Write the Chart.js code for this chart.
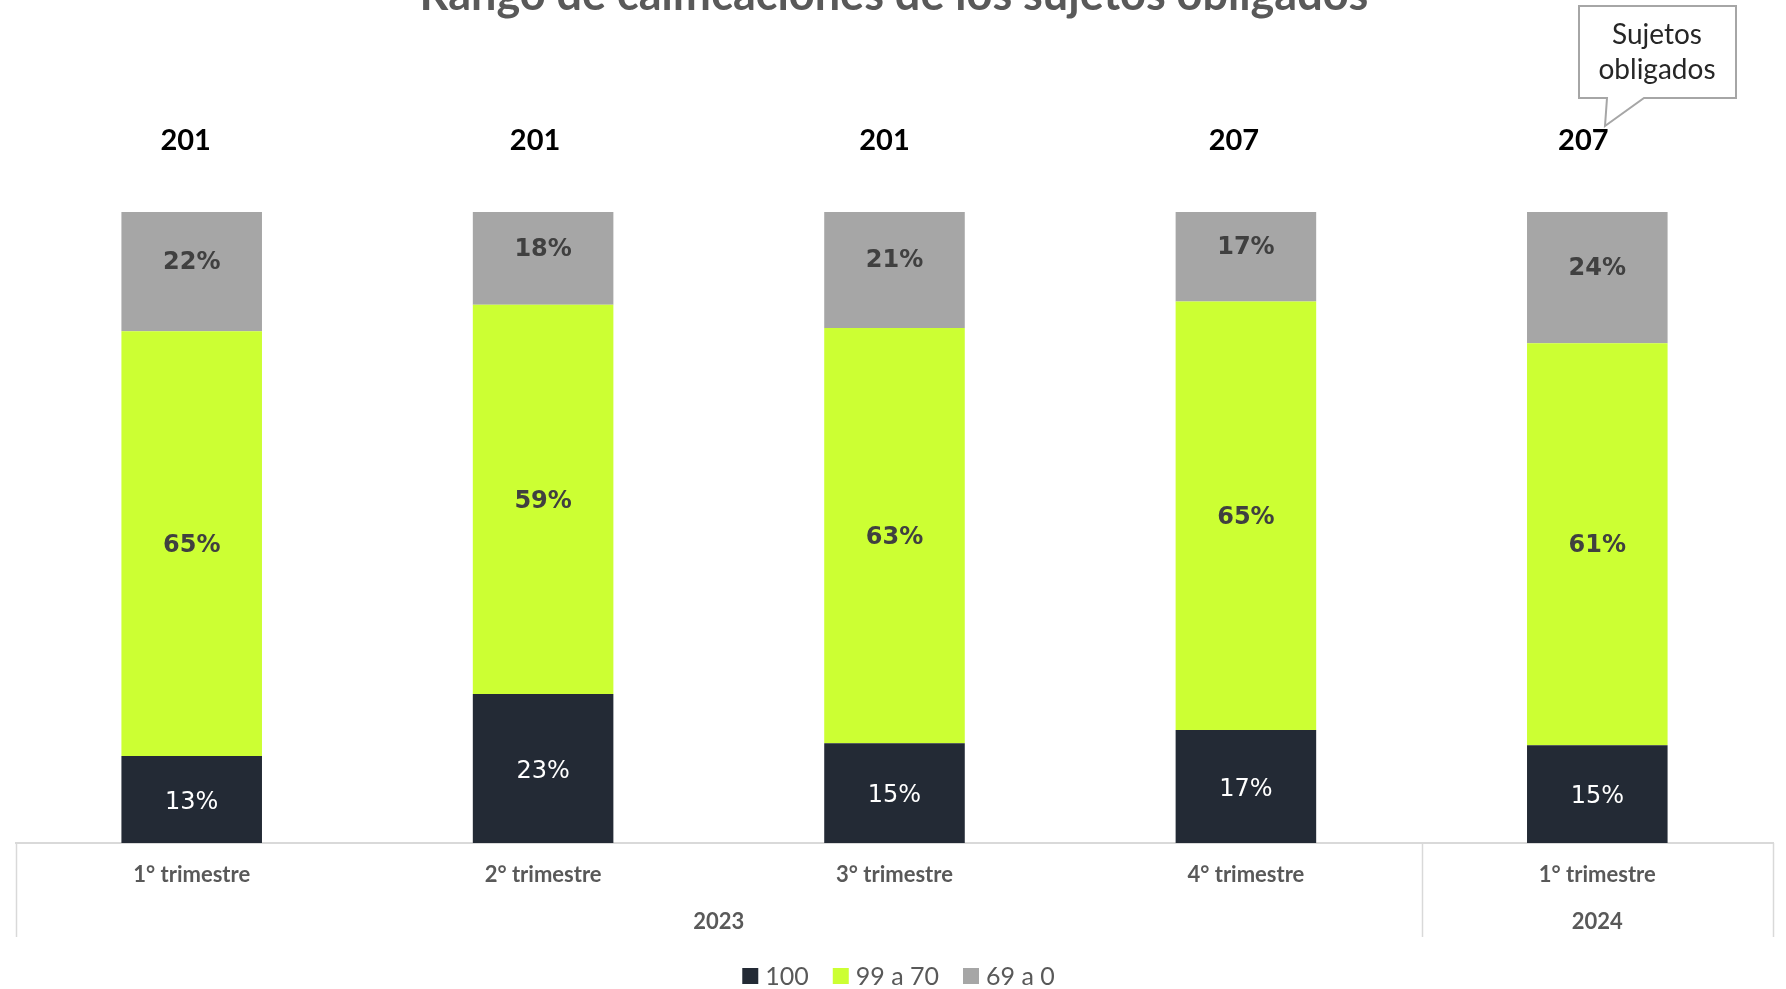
<!doctype html>
<html>
<head>
<meta charset="utf-8">
<title>Rango de calificaciones</title>
<script src="https://cdn.jsdelivr.net/npm/chart.js"></script>
<style>
  body { margin: 0; background: #fff; }
  #wrap { width: 1786px; height: 989px; position: relative; }
</style>
</head>
<body>
<div id="wrap"><canvas id="grafico"></canvas></div>
<script>
const TITULO = 'Rango de calificaciones de los sujetos obligados';
const trimestres = ['1° trimestre', '2° trimestre', '3° trimestre', '4° trimestre', '1° trimestre'];
const anios = ['2023', '2024'];
const aniosSpan = [4, 1];
const totales = [201, 201, 201, 207, 207];
const series = ['100', '99 a 70', '69 a 0'];

// alturas (las barras suman 100)
const valores100 = [13.8, 23.6, 15.8, 17.9, 15.5];
const valores99a70 = [67.3, 61.7, 65.8, 67.9, 63.7];
const valores69a0 = [18.9, 14.7, 18.4, 14.2, 20.8];

// textos impresos en cada segmento
const etiquetas100 = ['13%', '23%', '15%', '17%', '15%'];
const etiquetas99a70 = ['65%', '59%', '63%', '65%', '61%'];
const etiquetas69a0 = ['22%', '18%', '21%', '17%', '24%'];

const colores = ['#232a35', '#ccff33', '#a6a6a6'];
const GRIS_TEXTO = '#595959';

const etiquetasSegmentos = {
    id: 'etiquetasSegmentos',
    afterDatasetsDraw(chart) {
        const ctx = chart.ctx;
        const textos = [etiquetas100, etiquetas99a70, etiquetas69a0];
        const estilos = [
            { font: '24px "DejaVu Sans"', color: '#ffffff', dy: 3 },
            { font: 'bold 24px "DejaVu Sans"', color: '#404040', dy: 2 },
            { font: 'bold 24px "DejaVu Sans"', color: '#404040', dy: -9 }
        ];
        ctx.save();
        ctx.textAlign = 'center';
        ctx.textBaseline = 'middle';
        chart.data.datasets.forEach((ds, i) => {
            const meta = chart.getDatasetMeta(i);
            ctx.font = estilos[i].font;
            ctx.fillStyle = estilos[i].color;
            meta.data.forEach((bar, j) => {
                ctx.fillText(textos[i][j], bar.x, (bar.y + bar.base) / 2 + estilos[i].dy);
            });
        });

        // totales de sujetos obligados
        const meta0 = chart.getDatasetMeta(0);
        ctx.font = 'bold 29px Lato';
        ctx.fillStyle = '#000000';
        meta0.data.forEach((bar, j) => {
            ctx.fillText(String(totales[j]), bar.x - 6 - 2 * j, 141);
        });
        ctx.restore();
    }
};

const decoracion = {
    id: 'decoracion',
    afterDraw(chart) {
        const ctx = chart.ctx;
        const area = chart.chartArea;
        const x = chart.scales.x;
        const ancho = x.getPixelForValue(1) - x.getPixelForValue(0);
        ctx.save();

        // titulo (cortado arriba como en el original)
        ctx.font = 'bold 45px Lato';
        ctx.fillStyle = GRIS_TEXTO;
        ctx.textAlign = 'center';
        ctx.textBaseline = 'alphabetic';
        ctx.fillText(TITULO, 894, 10);

        // separadores y años
        ctx.strokeStyle = '#d9d9d9';
        ctx.lineWidth = 1.5;
        let inicio = 0;
        const bordes = [x.getPixelForValue(0) - ancho / 2];
        aniosSpan.forEach((n, k) => {
            const izq = x.getPixelForValue(inicio) - ancho / 2;
            const der = x.getPixelForValue(inicio + n - 1) + ancho / 2;
            bordes.push(der);
            ctx.font = 'bold 22px Lato';
            ctx.fillStyle = GRIS_TEXTO;
            ctx.textBaseline = 'middle';
            ctx.fillText(anios[k], (izq + der) / 2, 922);
            inicio += n;
        });
        bordes.forEach(b => {
            ctx.beginPath();
            ctx.moveTo(Math.round(b) + 0.5, area.bottom);
            ctx.lineTo(Math.round(b) + 0.5, 937);
            ctx.stroke();
        });

        // leyenda
        ctx.font = '25px Lato';
        const caja = 16, hueco = 7, sep = 24;
        let total = 0;
        series.forEach((s, i) => {
            total += caja + hueco + ctx.measureText(s).width + (i < series.length - 1 ? sep : 0);
        });
        let cx = (area.left + area.right) / 2 - total / 2 + 4;
        const cy = 976;
        ctx.textAlign = 'left';
        ctx.textBaseline = 'middle';
        chart.data.datasets.forEach((ds, i) => {
            ctx.fillStyle = ds.backgroundColor;
            ctx.fillRect(cx, cy - caja / 2, caja, caja);
            cx += caja + hueco;
            ctx.fillStyle = GRIS_TEXTO;
            ctx.fillText(ds.label, cx, cy + 1);
            cx += ctx.measureText(ds.label).width + sep;
        });

        // globo "Sujetos obligados"
        ctx.strokeStyle = '#a6a6a6';
        ctx.lineWidth = 2;
        ctx.fillStyle = '#ffffff';
        ctx.beginPath();
        ctx.moveTo(1579, 6);
        ctx.lineTo(1736, 6);
        ctx.lineTo(1736, 98);
        ctx.lineTo(1644, 98);
        ctx.lineTo(1605, 126);
        ctx.lineTo(1607, 98);
        ctx.lineTo(1579, 98);
        ctx.closePath();
        ctx.fill();
        ctx.stroke();
        ctx.font = '28px Lato';
        ctx.fillStyle = '#262626';
        ctx.textAlign = 'center';
        ctx.fillText('Sujetos', 1657, 35);
        ctx.fillText('obligados', 1657, 70);
        ctx.restore();
    }
};

new Chart(document.getElementById('grafico'), {
    type: 'bar',
    data: {
        labels: trimestres,
        datasets: [
            { label: series[0], data: valores100, backgroundColor: colores[0] },
            { label: series[1], data: valores99a70, backgroundColor: colores[1] },
            { label: series[2], data: valores69a0, backgroundColor: colores[2] }
        ]
    },
    options: {
        responsive: true,
        maintainAspectRatio: false,
        animation: false,
        layout: { padding: { top: 212, left: 16, right: 13, bottom: 0 } },
        datasets: { bar: { barPercentage: 0.4, categoryPercentage: 1, borderWidth: 0 } },
        scales: {
            x: {
                stacked: true,
                grid: { display: false, drawTicks: false },
                border: { display: true, color: '#d9d9d9', width: 2 },
                ticks: {
                    color: GRIS_TEXTO,
                    font: { family: 'Lato', weight: 'bold', size: 22 },
                    padding: 19,
                    maxRotation: 0,
                    autoSkip: false
                },
                afterFit(scale) { scale.height = 146; }
            },
            y: {
                stacked: true,
                display: false,
                min: 0,
                max: 100
            }
        },
        plugins: {
            legend: { display: false },
            tooltip: { enabled: false },
            title: { display: false }
        }
    },
    plugins: [etiquetasSegmentos, decoracion]
});
</script>
</body>
</html>
